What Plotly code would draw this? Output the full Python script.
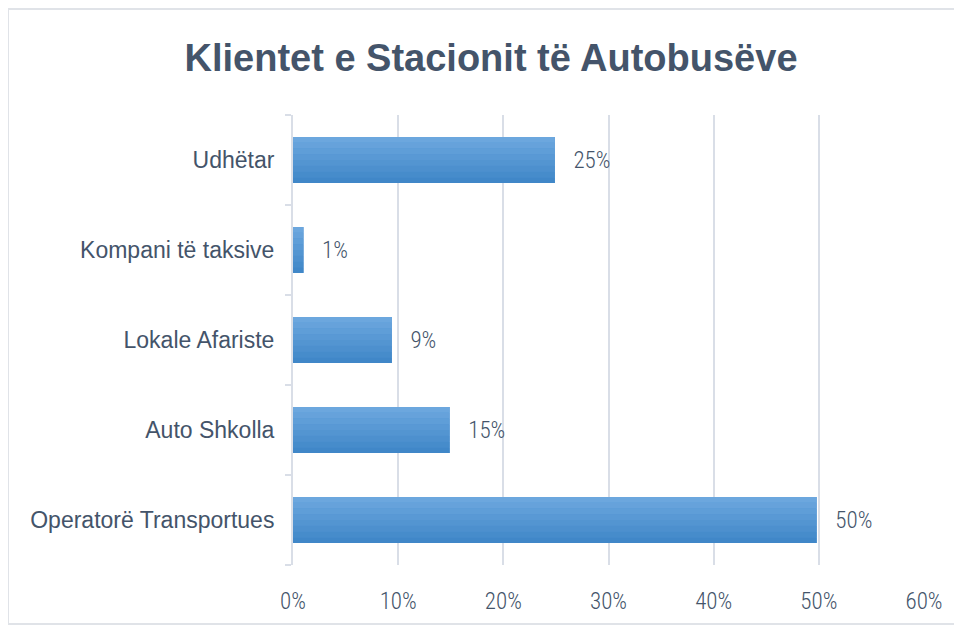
import plotly.graph_objects as go

categories = ["Operatorë Transportues", "Auto Shkolla", "Lokale Afariste", "Kompani të taksive", "Udhëtar"]
values = [49.8, 14.9, 9.4, 1.0, 24.9]
x_ticks = [0, 10, 20, 30, 40, 50, 60]
x_tick_labels = ["0%", "10%", "20%", "30%", "40%", "50%", "60%"]
title_text = "Klientet e Stacionit të Autobusëve"

TXT = "#44546A"
GRID = "#D9DEE7"
NARROW = "Roboto Condensed, Liberation Sans Narrow, Arial Narrow, sans-serif"
SANS = "Liberation Sans, Arial, sans-serif"

fig = go.Figure()

bar_w = 0.51
fig.add_trace(go.Bar(
    y=categories, x=values, orientation="h", width=bar_w,
    marker=dict(color="#5496D5", line=dict(width=0)),
    texttemplate="\u00a0\u00a0\u00a0%{x:.0f}%", textposition="outside",
    textfont=dict(family=NARROW, size=23, color=TXT, weight=300),
    cliponaxis=False, hoverinfo="skip", showlegend=False,
))

# vertical gradient bands (top light -> bottom dark)
top = (0x6C, 0xA7, 0xDE)
bot = (0x40, 0x87, 0xC8)
n = 8
bw = bar_w / n
for i in range(n):
    t = i / (n - 1)
    c = tuple(round(top[k] + (bot[k] - top[k]) * t) for k in range(3))
    fig.add_trace(go.Bar(
        y=categories, x=values, orientation="h", width=bw,
        offset=bar_w / 2 - (i + 1) * bw,
        marker=dict(color="rgb(%d,%d,%d)" % c, line=dict(width=0)),
        hoverinfo="skip", showlegend=False,
    ))

W, H = 954, 618
L, R, T, B = 285, 38, 107, 61
pw, ph = W - L - R, H - T - B

def px_x(x):
    return (x - L) / pw

def px_y(y):
    return (ph + T - y) / ph

border = dict(color="#E0E3E8", width=2)
shapes = [
    dict(type="line", xref="paper", yref="paper", x0=px_x(0), x1=px_x(W + 40), y0=px_y(1), y1=px_y(1), line=border, layer="below"),
    dict(type="line", xref="paper", yref="paper", x0=px_x(0), x1=px_x(0), y0=px_y(1), y1=px_y(616), line=border, layer="below"),
    dict(type="line", xref="paper", yref="paper", x0=px_x(0), x1=px_x(W + 40), y0=px_y(616), y1=px_y(616), line=border, layer="below"),
]

fig.update_layout(
    width=W, height=H,
    barmode="overlay",
    paper_bgcolor="white", plot_bgcolor="white",
    margin=dict(l=L, r=R, t=T, b=B),
    title=dict(text="<b>" + title_text + "</b>", x=483 / W, xanchor="center",
               y=1 - 50 / H, yanchor="middle",
               font=dict(family=SANS, size=38, color=TXT)),
    xaxis=dict(range=[0, 60], tickvals=x_ticks, ticktext=x_tick_labels,
               showgrid=True, gridcolor=GRID, gridwidth=2, zeroline=False,
               showline=False, ticks="", ticklabelstandoff=20,
               tickfont=dict(family=NARROW, size=23, color=TXT, weight=300)),
    yaxis=dict(categoryorder="array", categoryarray=categories,
               showline=True, linecolor=GRID, linewidth=2,
               ticks="outside", tickson="boundaries", ticklen=6, tickcolor=GRID, tickwidth=2,
               ticklabelstandoff=12, showgrid=False,
               tickfont=dict(family=SANS, size=23, color=TXT)),
    shapes=shapes,
)

fig.write_html("out.html",
               post_script="document.documentElement.style.overflow='hidden';document.body.style.overflow='hidden';")
